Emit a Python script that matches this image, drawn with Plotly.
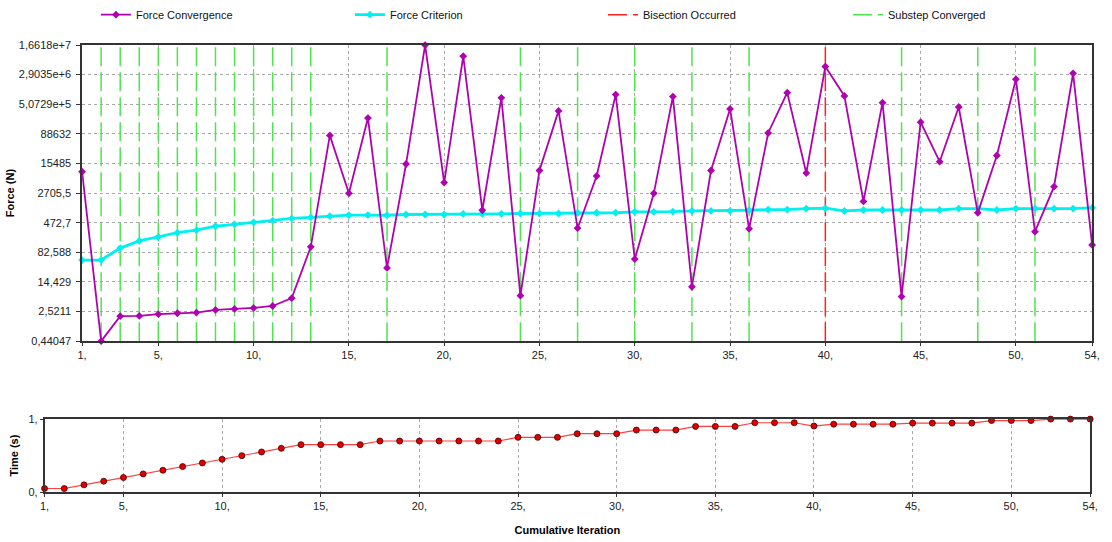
import math
import plotly.graph_objects as go

# ---------------- data ----------------
iterations = list(range(1, 55))

force_convergence = [
    9500, 0.44047, 1.92, 1.95, 2.16, 2.28, 2.38, 2.78, 2.94, 3.12,
    3.50, 5.55, 114, 81000, 2670, 225000, 33, 15000, 1.66e7, 5040,
    8.6e6, 986, 741000, 6.44, 10230, 343000, 342, 7400, 895000, 55.5,
    2670, 798000, 10.8, 10230, 385000, 330, 93300, 1.006e6, 8800, 4.67e6,
    830000, 1655, 556000, 6.08, 176000, 17200, 431000, 845, 24800, 2.21e6,
    278, 3940, 3.13e6, 128,
]

force_criterion = [
    52.4, 52.4, 106, 162, 204, 262, 305, 384, 430, 483,
    533, 608, 644, 698, 740, 740, 733, 766, 766, 766,
    798, 798, 798, 813, 813, 813, 845, 850, 850, 895,
    895, 910, 949, 949, 949, 986, 1022, 1022, 1084, 1109,
    949, 1000, 1000, 1000, 1000, 1000, 1084, 1084, 1000, 1084,
    1084, 1084, 1084, 1147,
]

time_values = [
    0.05, 0.05, 0.10, 0.15, 0.20, 0.25, 0.30, 0.35, 0.40, 0.45,
    0.50, 0.55, 0.60, 0.65, 0.65, 0.65, 0.65, 0.70, 0.70, 0.70,
    0.70, 0.70, 0.70, 0.70, 0.75, 0.75, 0.75, 0.80, 0.80, 0.80,
    0.85, 0.85, 0.85, 0.90, 0.90, 0.90, 0.95, 0.95, 0.95, 0.905,
    0.93, 0.93, 0.93, 0.93, 0.945, 0.945, 0.945, 0.945, 0.98, 0.98,
    0.98, 1.0, 1.0, 1.0,
]

substep_converged_iters = [2, 3, 4, 5, 6, 7, 8, 9, 10, 11, 12, 13,
                           17, 24, 27, 30, 33, 36, 44, 48, 51]
bisection_iters = [40]

force_ticks = [0.44047, 2.5211, 14.429, 82.588, 472.7, 2705.5, 15485,
               88632, 5.0729e5, 2.9035e6, 1.6618e7]
force_tick_labels = ["0,44047", "2,5211", "14,429", "82,588", "472,7",
                     "2705,5", "15485", "88632", "5,0729e+5", "2,9035e+6",
                     "1,6618e+7"]
iter_ticks = [1, 5, 10, 15, 20, 25, 30, 35, 40, 45, 50, 54]
iter_tick_labels = ["1,", "5,", "10,", "15,", "20,", "25,", "30,", "35,",
                    "40,", "45,", "50,", "54,"]
time_ticks = [0, 1]
time_tick_labels = ["0,", "1,"]

# ---------------- styling ----------------
W, H = 1112, 542
FONT = "Liberation Sans"
PURPLE = "#B000B0"
CYAN = "#00F0F0"
GREEN = "#4CE64C"
RED = "#FF2020"
GRID = "#A8A8A8"

ymin, ymax = force_ticks[0], force_ticks[-1]


def vlines(xs, y0, y1):
    xx, yy = [], []
    for v in xs:
        xx += [v, v, None]
        yy += [y0, y1, None]
    return xx, yy


fig = go.Figure()

gx, gy = vlines(substep_converged_iters, ymin, ymax)
fig.add_trace(go.Scatter(x=gx, y=gy, mode="lines", name="Substep Converged",
                         line=dict(color=GREEN, width=1.5, dash="19px,6px"),
                         legend="legend4", xaxis="x", yaxis="y",
                         hoverinfo="skip"))
rx, ry = vlines(bisection_iters, ymin, ymax)
fig.add_trace(go.Scatter(x=rx, y=ry, mode="lines", name="Bisection Occurred",
                         line=dict(color=RED, width=1.5, dash="19px,6px"),
                         legend="legend3", xaxis="x", yaxis="y",
                         hoverinfo="skip"))

fig.add_trace(go.Scatter(x=iterations, y=force_criterion, mode="lines+markers",
                         name="Force Criterion",
                         line=dict(color=CYAN, width=2.8),
                         marker=dict(symbol="diamond", size=6, color=CYAN),
                         legend="legend2", xaxis="x", yaxis="y",
                         cliponaxis=False))
fig.add_trace(go.Scatter(x=iterations, y=force_convergence, mode="lines+markers",
                         name="Force Convergence",
                         line=dict(color=PURPLE, width=1.8),
                         marker=dict(symbol="diamond", size=6, color=PURPLE),
                         legend="legend", xaxis="x", yaxis="y",
                         cliponaxis=False))

fig.add_trace(go.Scatter(x=iterations, y=time_values, mode="lines+markers",
                         name="Time", showlegend=False,
                         line=dict(color="#FF4040", width=1.2),
                         marker=dict(symbol="circle", size=6, color="#E00000",
                                     line=dict(color="#400000", width=0.8)),
                         xaxis="x2", yaxis="y2", cliponaxis=False))

tickfont = dict(family=FONT, size=11, color="#222222")
titlefont = dict(family=FONT, size=11, color="#000000", weight="bold")

legend_common = dict(orientation="h", yanchor="top", xanchor="left",
                     y=1 + 8 / H, bgcolor="rgba(0,0,0,0)",
                     font=dict(family=FONT, size=11, color="#111111"),
                     itemwidth=30, tracegroupgap=0)

fig.update_layout(
    width=W, height=H,
    margin=dict(l=0, r=0, t=0, b=0),
    paper_bgcolor="white", plot_bgcolor="white",
    font=dict(family=FONT, size=11),
    showlegend=True,
    legend=dict(legend_common, x=92 / W),
    legend2=dict(legend_common, x=349 / W),
    legend3=dict(legend_common, x=605 / W),
    legend4=dict(legend_common, x=853 / W),
    xaxis=dict(domain=[78 / W, 1100 / W], anchor="y", range=[1, 54],
               tickvals=iter_ticks, ticktext=iter_tick_labels,
               tickfont=tickfont, showgrid=True, gridcolor=GRID,
               griddash="3px,3px", gridwidth=1, zeroline=False,
               showline=True, linecolor="#333333", linewidth=1.5, mirror=True,
               ticks="outside", ticklen=3, tickcolor="#333333"),
    yaxis=dict(domain=[1 - 342 / H, 1 - 38 / H], anchor="x", type="log",
               range=[math.log10(ymin), math.log10(ymax)],
               tickvals=force_ticks, ticktext=force_tick_labels,
               tickfont=tickfont, showgrid=True, gridcolor=GRID,
               griddash="3px,3px", gridwidth=1, zeroline=False,
               showline=True, linecolor="#333333", linewidth=1.5, mirror=True,
               ticks="outside", ticklen=4, tickcolor="#333333",
               ticklabelstandoff=3,
               title=dict(text="Force (N)", font=titlefont, standoff=2)),
    xaxis2=dict(domain=[40 / W, 1098 / W], anchor="y2", range=[1, 54],
                tickvals=iter_ticks, ticktext=iter_tick_labels,
                tickfont=tickfont, showgrid=True, gridcolor=GRID,
                griddash="3px,3px", gridwidth=1, zeroline=False,
                showline=True, linecolor="#333333", linewidth=1.5, mirror=True,
                ticks="outside", ticklen=3, tickcolor="#333333",
                title=dict(text="Cumulative Iteration", font=titlefont,
                           standoff=15)),
    yaxis2=dict(domain=[1 - 497 / H, 1 - 422 / H], anchor="x2", range=[0, 1],
                tickvals=time_ticks, ticktext=time_tick_labels,
                tickfont=tickfont, showgrid=False, zeroline=False,
                showline=True, linecolor="#333333", linewidth=1.5, mirror=True,
                ticks="outside", ticklen=3, tickcolor="#333333",
                title=dict(text="Time (s)", font=titlefont, standoff=8)),
)

fig.write_html("out.html")
